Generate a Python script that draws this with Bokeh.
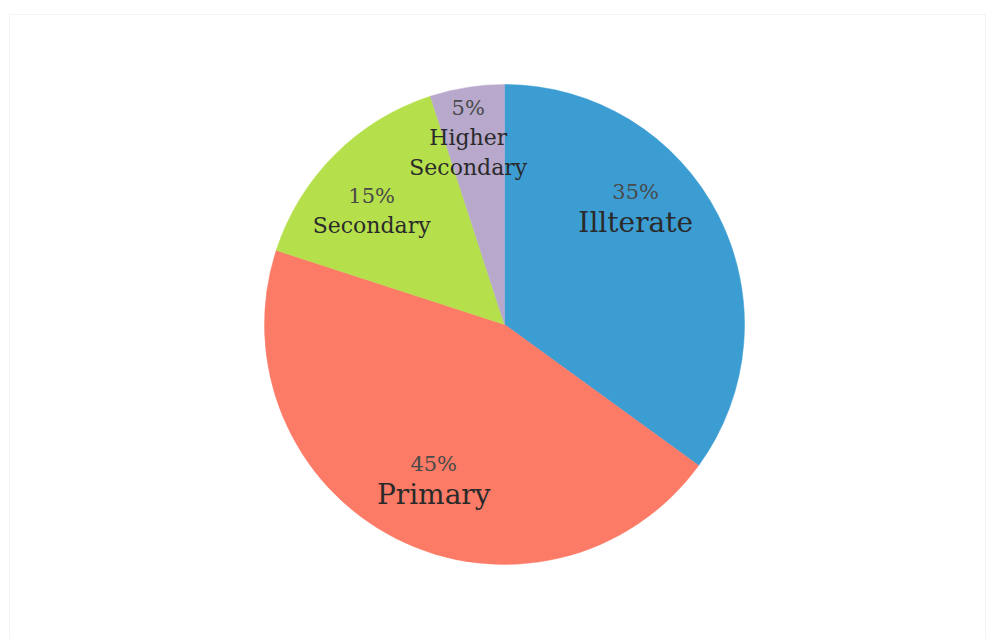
import math
from bokeh.plotting import figure
from bokeh.models import Range1d, ColumnDataSource, BoxAnnotation
from bokeh.core.properties import value
from bokeh.embed import file_html
from bokeh.resources import INLINE

# ---- data ----
categories = ["Illterate", "Primary", "Secondary", "Higher Secondary"]
percents = [35, 45, 15, 5]
colors = ["#3c9dd3", "#fc7b66", "#b5e04c", "#b8a9cc"]

# ---- layout (pixel-space canvas, centre of pie at origin) ----
W, H = 988, 639
CX, CY = 504, 324
R = 240

p = figure(width=W, height=H, output_backend="svg", toolbar_location=None,
           x_range=Range1d(-CX, W - CX), y_range=Range1d(-(H - CY), CY),
           min_border=0, outline_line_color=None, background_fill_color="white",
           border_fill_color="white")
p.axis.visible = False
p.grid.visible = False

# wedges, clockwise from 12 o'clock
total = sum(percents)
starts, ends, cum = [], [], 0.0
for v in percents:
    a0 = math.pi / 2 - 2 * math.pi * (cum + v) / total
    a1 = math.pi / 2 - 2 * math.pi * cum / total
    starts.append(a0)
    ends.append(a1)
    cum += v
src = ColumnDataSource(dict(start=starts, end=ends, color=colors, cat=categories))
p.wedge(x=0, y=0, radius=R, start_angle="start", end_angle="end",
        fill_color="color", line_color="color", line_width=0.5, source=src)

# label placement (angle in degrees, radius in px, size scale) per slice
label_pos = [(41.8, 176, "big"), (-114.6, 170, "big"), (139.4, 175, "small"), (101.0, 190, "small")]
FONT = value("DejaVu Serif")
for cat, pct, (ang, rad, kind) in zip(categories, percents, label_pos):
    x = rad * math.cos(math.radians(ang))
    y = rad * math.sin(math.radians(ang))
    words = cat.split(" ") if kind == "small" else [cat]
    lines = [f"{pct}%"] + words
    n = len(lines)
    step = 31 if kind == "big" else 30
    for i, t in enumerate(lines):
        yy = y + (n - 1) * step / 2 - i * step
        size = "21px" if i == 0 else ("28px" if kind == "big" else "22px")
        p.text(x=[x], y=[yy], text=[t], text_align="center", text_baseline="middle",
               text_font=FONT, text_font_size=size,
               text_color="#4a4a4a" if i == 0 else "#2a2a2a")

# faint frame of the slide
p.add_layout(BoxAnnotation(left=9 - CX, right=985 - CX, top=CY - 14, bottom=CY - 700,
                           fill_color=None, line_color="#d4d9dc", line_width=1))

open("out.html", "w").write(file_html(p, INLINE))
